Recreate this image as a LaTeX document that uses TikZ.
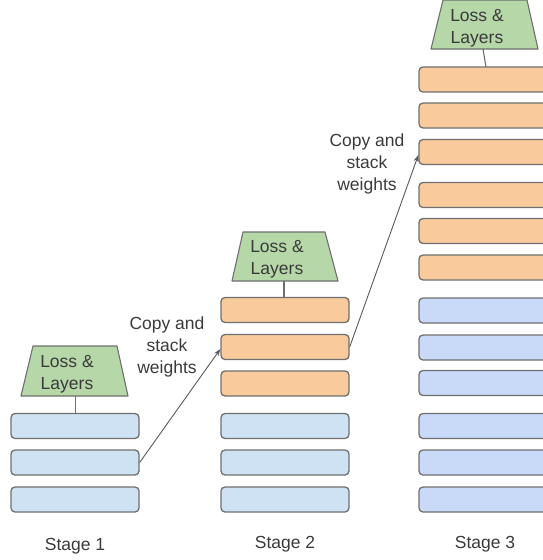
\documentclass[tikz,border=0pt]{standalone}
\usepackage{fontspec}
\setmainfont{Liberation Sans}
\usetikzlibrary{arrows.meta}
\definecolor{bluea}{HTML}{CFE2F3}
\definecolor{blueb}{HTML}{C9DAF8}
\definecolor{orng}{HTML}{F9CB9C}
\definecolor{grn}{HTML}{B6D7A8}
\definecolor{edge}{HTML}{6F6F6F}
\definecolor{txt}{HTML}{3A3A3A}
\begin{document}
\begin{tikzpicture}[x=1pt,y=-1pt,
  layer/.style={draw=edge,line width=1.3pt,rounded corners=4pt,minimum width=128pt,minimum height=25pt,inner sep=0pt},
  lb/.style={layer,fill=bluea},
  lc/.style={layer,fill=blueb},
  lo/.style={layer,fill=orng},
  loss/.style={draw=edge,line width=1.1pt,fill=grn,line join=round},
  lbl/.style={text=txt,font=\fontsize{17.5}{22}\selectfont,align=center,inner sep=0pt},
  link/.style={draw=edge,line width=1.1pt},
  arr/.style={draw=edge!80!black,line width=0.9pt,-{Stealth[length=7pt,width=5pt]}}]
\useasboundingbox (0,0) rectangle (543,560);
% Stage 1
\node[lb] (a1) at (75,426) {};
\node[lb] (a2) at (75,462.5) {};
\node[lb] (a3) at (75,499.5) {};
\path[loss] (33,346) -- (117,346) -- (128,396) -- (21,396) -- cycle;
\coordinate (t1) at (75.5,396);
\node[lbl] (tt1) at (67,374) {Loss \&\\Layers};
\draw[link] (t1) -- (t1|-a1.north);
\node[lbl] (s1) at (75,546) {Stage 1};
% Stage 2
\node[lo] (b1) at (285,310) {};
\node[lo] (b2) at (285,347) {};
\node[lo] (b3) at (285,383.5) {};
\node[lb] (b4) at (285,426) {};
\node[lb] (b5) at (285,462.5) {};
\node[lb] (b6) at (285,499.5) {};
\path[loss] (243,232) -- (325,232) -- (338,281) -- (232,281) -- cycle;
\coordinate (t2) at (284,281);
\node[lbl] (tt2) at (277,259) {Loss \&\\Layers};
\draw[link] (t2) -- (t2|-b1.north);
\node[lbl] (s2) at (285,544) {Stage 2};
% Stage 3
\node[lo] (c1) at (483,79.5) {};
\node[lo] (c2) at (483,115.5) {};
\node[lo] (c3) at (483,152) {};
\node[lo] (c4) at (483,195) {};
\node[lo] (c5) at (483,231) {};
\node[lo] (c6) at (483,267.5) {};
\node[lc] (c7) at (483,310.5) {};
\node[lc] (c8) at (483,347.5) {};
\node[lc] (c9) at (483,383) {};
\node[lc] (c10) at (483,426) {};
\node[lc] (c11) at (483,462.5) {};
\node[lc] (c12) at (483,499.5) {};
\path[loss] (443,0) -- (527,0) -- (538,49) -- (431,49) -- cycle;
\coordinate (t3) at (483,49);
\coordinate (t3e) at (486,67);
\node[lbl] (tt3) at (477,28) {Loss \&\\Layers};
\draw[link] (t3) -- (t3e);
\node[lbl] (s3) at (485,544) {Stage 3};
% arrows
\node[lbl] (k1) at (167,347) {Copy and\\stack\\weights};
\node[lbl] (k2) at (367,164) {Copy and\\stack\\weights};
\draw[arr] (a2.east) -- ([yshift=-2pt]b2.west);
\draw[arr] (b2.east) -- ([yshift=-3pt]c3.west);
\end{tikzpicture}
\end{document}
